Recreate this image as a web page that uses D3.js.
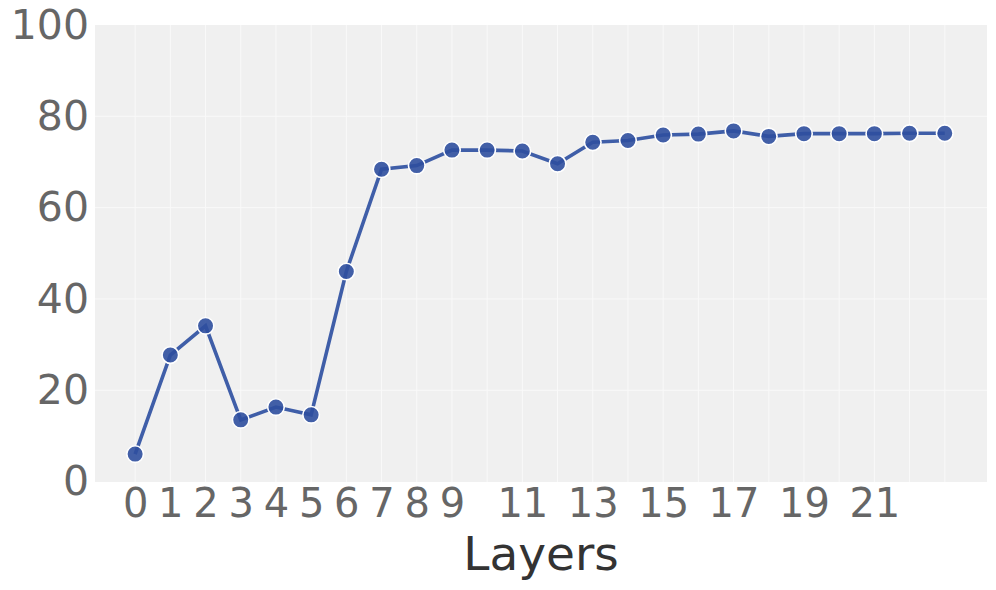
<!DOCTYPE html>
<html>
<head>
<meta charset="utf-8">
<script src="https://cdn.jsdelivr.net/npm/d3@7"></script>
<style>
  body { margin: 0; background: #fff; }
  svg { display: block; font-family: "DejaVu Sans", sans-serif; }
</style>
</head>
<body>
<div id="chart"></div>
<script>
'use strict';

// accuracy per layer
var layers = d3.range(0, 24);
var scores = [6.0, 27.7, 34.1, 13.5, 16.3, 14.6, 46.0, 68.4, 69.2, 72.6, 72.6, 72.4,
              69.6, 74.3, 74.7, 75.9, 76.1, 76.8, 75.6, 76.2, 76.2, 76.2, 76.3, 76.3];
var xTickLabels = [0, 1, 2, 3, 4, 5, 6, 7, 8, 9, 11, 13, 15, 17, 19, 21];
var yTicks = [0, 20, 40, 60, 80, 100];

var width = 996, height = 590;
var margin = {top: 25, right: 9, bottom: 108, left: 95};

var svg = d3.select('#chart').append('svg')
  .attr('width', width)
  .attr('height', height);

var x = d3.scaleLinear()
  .domain([-1.14, 24.2])
  .range([margin.left, width - margin.right]);

var y = d3.scaleLinear()
  .domain([0, 100])
  .range([height - margin.bottom - 0.5, margin.top]);

// plot background
svg.append('rect')
  .attr('x', margin.left)
  .attr('y', margin.top)
  .attr('width', width - margin.left - margin.right)
  .attr('height', height - margin.top - margin.bottom)
  .style('fill', '#f0f0f0');

// grid
var grid = svg.append('g').attr('class', 'grid');

grid.selectAll('line.v')
  .data(layers)
  .enter().append('line')
  .attr('class', 'v')
  .attr('x1', function(d) { return x(d); })
  .attr('x2', function(d) { return x(d); })
  .attr('y1', margin.top)
  .attr('y2', height - margin.bottom)
  .style('stroke', '#f9f9f9')
  .style('stroke-width', 1);

grid.selectAll('line.h')
  .data(yTicks.slice(1, -1))
  .enter().append('line')
  .attr('class', 'h')
  .attr('x1', margin.left)
  .attr('x2', width - margin.right)
  .attr('y1', function(d) { return y(d); })
  .attr('y2', function(d) { return y(d); })
  .style('stroke', '#f9f9f9')
  .style('stroke-width', 1);

// axes
var xAxis = d3.axisBottom(x)
  .tickValues(xTickLabels)
  .tickSize(0)
  .tickPadding(7);

var yAxis = d3.axisLeft(y)
  .tickValues(yTicks)
  .tickSize(0)
  .tickPadding(6);

svg.append('g')
  .attr('transform', 'translate(0,' + (height - margin.bottom) + ')')
  .call(xAxis)
  .call(function(g) { g.select('.domain').remove(); })
  .selectAll('text')
  .style('font-size', '40px')
  .style('font-family', '"DejaVu Sans", sans-serif')
  .style('fill', '#666');

svg.append('g')
  .attr('transform', 'translate(' + margin.left + ',0)')
  .call(yAxis)
  .call(function(g) { g.select('.domain').remove(); })
  .selectAll('text')
  .style('font-size', '41px')
  .style('font-family', '"DejaVu Sans", sans-serif')
  .style('fill', '#666');

svg.append('text')
  .attr('x', (margin.left + width - margin.right) / 2)
  .attr('y', 570)
  .attr('text-anchor', 'middle')
  .style('font-size', '47px')
  .style('fill', '#333')
  .text('Layers');

// series
var line = d3.line()
  .x(function(d, i) { return x(layers[i]); })
  .y(function(d) { return y(d); });

svg.append('path')
  .datum(scores)
  .attr('d', line)
  .style('fill', 'none')
  .style('stroke', '#3f5ea8')
  .style('stroke-width', 3.6);

svg.append('g').selectAll('circle')
  .data(scores)
  .enter().append('circle')
  .attr('cx', function(d, i) { return x(layers[i]); })
  .attr('cy', function(d) { return y(d); })
  .attr('r', 8.3)
  .style('fill', '#2f4f9f')
  .style('fill-opacity', 0.9)
  .style('stroke', '#fff')
  .style('stroke-width', 1.6);
</script>
</body>
</html>
